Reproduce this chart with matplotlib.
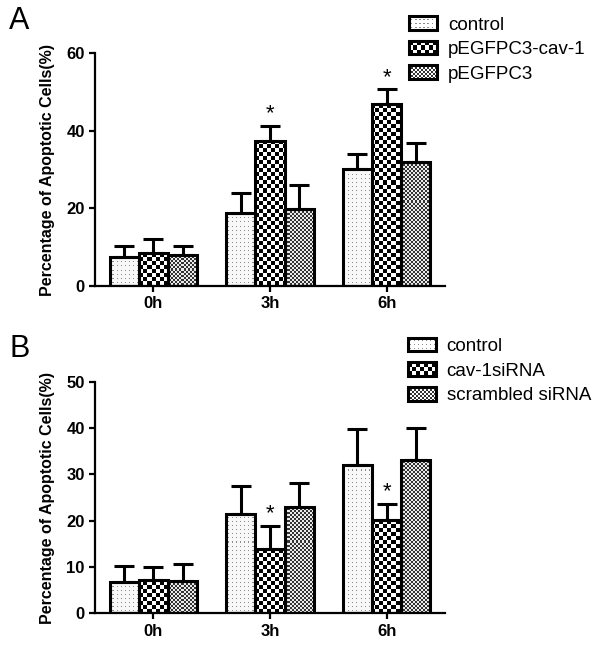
import matplotlib
matplotlib.use("Agg")
import matplotlib.pyplot as plt
import numpy as np
from matplotlib.patches import Patch, Rectangle
from matplotlib.legend_handler import HandlerBase

plt.rcParams['font.family'] = ['Liberation Sans', 'DejaVu Sans']

groups = ["0h", "3h", "6h"]

# panel A
labels_a = ["control", "pEGFPC3-cav-1", "pEGFPC3"]
ctrl_a = [7.5, 18.9, 30.1]
ctrl_a_err = [2.8, 5.1, 3.8]
cav_a = [8.4, 37.4, 46.9]
cav_a_err = [3.6, 3.9, 3.8]
vec_a = [8.0, 19.8, 32.0]
vec_a_err = [2.3, 6.2, 4.9]

# panel B
labels_b = ["control", "cav-1siRNA", "scrambled siRNA"]
ctrl_b = [6.8, 21.4, 32.0]
ctrl_b_err = [3.5, 6.1, 7.9]
sirna_b = [7.3, 14.0, 20.1]
sirna_b_err = [2.8, 4.9, 3.6]
scr_b = [7.0, 22.9, 33.2]
scr_b_err = [3.6, 5.2, 6.9]

# which group gets a star on the middle series
star_groups = [1, 2]

kinds = ["dots", "check", "fine"]


def pattern(kind, h, w):
    yy, xx = np.mgrid[0:h, 0:w]
    if kind == "dots":
        img = np.full((h, w), 0.97)
        img[(xx % 4 == 1) & (yy % 4 == 1)] = 0.55
    elif kind == "check":
        img = ((xx // 4 + yy // 4) % 2).astype(float)
    else:
        img = np.where((xx // 2 + yy // 2) % 2, 0.92, 0.2)
    return img


class PatternHandler(HandlerBase):
    def __init__(self, kind):
        super().__init__()
        self.kind = kind

    def create_artists(self, legend, orig_handle, xdescent, ydescent,
                       width, height, fontsize, trans):
        x0, y0 = -xdescent, -ydescent
        arts = [Rectangle((x0, y0), width, height, facecolor="white",
                          edgecolor="none", transform=trans)]
        if self.kind == "dots":
            c = 2.9
            for i in np.arange(x0 + c / 2, x0 + width - 0.5, c):
                for j in np.arange(y0 + c / 2, y0 + height - 0.5, c):
                    arts.append(Rectangle((i, j), 0.8, 0.8, facecolor="0.55",
                                          edgecolor="none", transform=trans))
        else:
            c = 2.9 if self.kind == "check" else 1.45
            dark = "black" if self.kind == "check" else "0.2"
            nx = int(round(width / c))
            ny = int(round(height / c))
            cw, ch = width / nx, height / ny
            for i in range(nx):
                for j in range(ny):
                    if (i + j) % 2 == 0:
                        arts.append(Rectangle((x0 + i * cw, y0 + j * ch), cw, ch,
                                              facecolor=dark, edgecolor="none",
                                              transform=trans))
        arts.append(Rectangle((x0, y0), width, height, facecolor="none",
                              edgecolor="black", linewidth=2.2, transform=trans))
        return arts


def draw_panel(fig, rect, series, errs, labels, ymax, ystep, letter,
               leg_anchor, letter_y):
    ax = fig.add_axes(rect)
    x = np.arange(len(groups))
    width = 0.25
    ax.set_xlim(-0.5, 2.5)
    ax.set_ylim(0, ymax)

    W = int(round(fig.get_figwidth() * fig.dpi * rect[2]))
    H = int(round(fig.get_figheight() * fig.dpi * rect[3]))

    for k, (vals, err, kind) in enumerate(zip(series, errs, kinds)):
        pos = x + (k - 1) * width
        bars = ax.bar(pos, vals, width, facecolor="none", edgecolor="black",
                      linewidth=2.2, zorder=3)
        img = pattern(kind, H, W)
        for b in bars:
            im = ax.imshow(img, extent=(-0.5, 2.5, 0, ymax), origin="upper",
                           aspect="auto", interpolation="nearest", cmap="gray",
                           vmin=0, vmax=1, zorder=2)
            im.set_clip_path(b)
        ax.errorbar(pos, vals, yerr=[np.zeros(len(vals)), err], fmt="none",
                    ecolor="black", elinewidth=2.2, capsize=7.5, capthick=2.2,
                    zorder=4)
        if k == 1:
            for g in star_groups:
                ax.annotate("*", (pos[g], vals[g] + err[g]), xytext=(0, 1),
                            textcoords="offset points", ha="center",
                            va="bottom", fontsize=16)

    ax.set_xlim(-0.5, 2.5)
    ax.set_ylim(0, ymax)
    ax.set_xticks(x)
    ax.set_xticklabels(groups, fontsize=12, fontweight="bold")
    ticks = np.arange(0, ymax + 0.1, ystep)
    ax.set_yticks(ticks)
    ax.set_yticklabels([str(int(v)) for v in ticks], fontsize=12,
                       fontweight="bold")
    ax.tick_params(axis="both", direction="out", length=4.5, width=1.6, pad=3)
    ax.spines["top"].set_visible(False)
    ax.spines["right"].set_visible(False)
    ax.spines["left"].set_linewidth(1.6)
    ax.spines["bottom"].set_linewidth(1.6)
    ax.set_ylabel("Percentage of Apoptotic Cells(%)", fontsize=11.5,
                  fontweight="bold", labelpad=8)

    proxies = [Patch(label=l) for l in labels]
    hm = {p: PatternHandler(kd) for p, kd in zip(proxies, kinds)}
    fig.legend(handles=proxies, handler_map=hm, loc="upper left",
               bbox_to_anchor=leg_anchor, frameon=False, fontsize=13.5,
               handlelength=1.5, handleheight=0.75, handletextpad=0.55,
               labelspacing=0.38, borderpad=0, borderaxespad=0)
    fig.text(0.015, letter_y, letter, fontsize=22, va="top")
    return ax


fig = plt.figure(figsize=(6.02, 6.47), dpi=100)

draw_panel(fig, [0.158, 0.558, 0.581, 0.360],
           [ctrl_a, cav_a, vec_a], [ctrl_a_err, cav_a_err, vec_a_err],
           labels_a, 60, 20, "A", (0.680, 0.975), 0.99)
draw_panel(fig, [0.158, 0.052, 0.581, 0.358],
           [ctrl_b, sirna_b, scr_b], [ctrl_b_err, sirna_b_err, scr_b_err],
           labels_b, 50, 10, "B", (0.678, 0.478), 0.483)

fig.savefig("out.png", dpi=100)
